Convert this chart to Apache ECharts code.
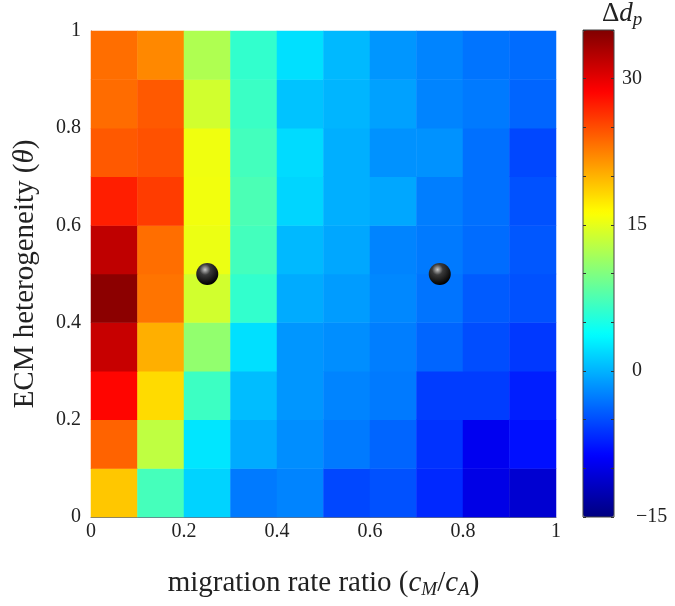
<!DOCTYPE html>
<html><head><meta charset="utf-8">
<script src="https://cdn.jsdelivr.net/npm/echarts@6/dist/echarts.min.js"></script>
<style>html,body{margin:0;padding:0;background:#fff}#c{width:675px;height:606px}</style>
</head><body><div id="c"></div>
<script>
const xCats = ['0.05','0.15','0.25','0.35','0.45','0.55','0.65','0.75','0.85','0.95'];
const yCats = ['0.05','0.15','0.25','0.35','0.45','0.55','0.65','0.75','0.85','0.95'];
// rows from theta 0-0.1 (bottom) to 0.9-1 (top); columns cM/cA 0-0.1 ... 0.9-1
const row0 = [19.0, 7.1, 1.6, -2.8, -2.3, -5.3, -4.8, -6.8, -10.0, -11.0];
const row1 = [23.9, 13.1, 2.5, -0.4, -1.8, -2.8, -3.8, -6.3, -9.5, -8.0];
const row2 = [28.5, 18.0, 6.7, 0.5, -1.4, -2.3, -2.8, -5.8, -5.8, -7.3];
const row3 = [31.5, 20.2, 10.9, 2.2, -1.4, -1.8, -2.6, -3.8, -5.0, -6.0];
const row4 = [34.4, 23.1, 14.0, 6.2, -0.4, -1.1, -2.1, -3.1, -4.3, -4.8];
const row5 = [31.9, 23.4, 15.3, 7.0, 0.3, -0.6, -2.3, -2.8, -3.5, -4.5];
const row6 = [27.3, 25.8, 15.6, 7.4, 1.7, -0.2, -0.6, -2.6, -3.3, -4.8];
const row7 = [24.4, 24.8, 15.5, 7.0, 2.0, -0.2, -1.6, -1.6, -3.3, -5.3];
const row8 = [23.5, 24.4, 14.0, 6.6, 0.8, 0.1, -0.9, -2.3, -2.8, -3.8];
const row9 = [23.4, 22.1, 12.3, 6.2, 2.2, 0.3, -1.4, -2.3, -3.1, -3.5];
const rows = [row0,row1,row2,row3,row4,row5,row6,row7,row8,row9];
const markers = [[0.25, 0.5], [0.75, 0.5]];
const axisTicks = [0, 0.2, 0.4, 0.6, 0.8, 1];
const cbarMin = -15, cbarMax = 35, cbarLabels = [-15, 0, 15, 30];
const jet = ['#000080','#0000ff','#0080ff','#00ffff','#80ff80','#ffff00','#ff8000','#ff0000','#800000'];

const heat = [];
rows.forEach((r, yi) => r.forEach((v, xi) => heat.push([xi, yi, v])));

const serif = 'Liberation Serif';
const tickFont = 20, titleFont = 29;
const cbLabelPad = {'30': 0, '15': 5, '0': 10, '-15': 14};
const lbl = pad => ({fontFamily: serif, fontSize: tickFont, color: '#222', padding: [0, 0, 0, pad]});
const chart = echarts.init(document.getElementById('c'));
chart.setOption({
  animation: false,
  textStyle: {fontFamily: serif},
  title: {
    text: '{d|Δ}{i|d}{s|p}', left: 602, top: -2, padding: 0,
    textStyle: {fontWeight: 'normal', rich: {
      d: {fontFamily: serif, fontSize: 27, fontWeight: 'normal', color: '#222'},
      i: {fontFamily: serif, fontSize: 27, fontWeight: 'normal', fontStyle: 'italic', color: '#222'},
      s: {fontFamily: serif, fontSize: 19, fontWeight: 'normal', fontStyle: 'italic', color: '#222', padding: [12, 0, 0, 0]}
    }}
  },
  grid: [
    {left: 91, top: 31, width: 465, height: 486, show: false},
    {left: 583, top: 30, width: 31, height: 487, show: true, borderColor: '#444', borderWidth: 1, backgroundColor: 'transparent', z: 5}
  ],
  xAxis: [
    {type: 'category', data: xCats, gridIndex: 0, show: false, position: 'top'},
    {type: 'value', gridIndex: 0, position: 'bottom', min: 0, max: 1, interval: 0.2,
     axisLine: {show: true, onZero: false, lineStyle: {color: '#6a7080', width: 1}},
     axisTick: {show: false}, splitLine: {show: false},
     axisLabel: {fontFamily: serif, fontSize: tickFont, color: '#222', margin: 5,
       formatter: v => axisTicks.some(t => Math.abs(t - v) < 1e-9) ? String(+v.toFixed(1)) : ''},
     name: '{n|migration rate ratio (}{i|c}{s|M}{n|/}{i|c}{s|A}{n|)}',
     nameLocation: 'middle', nameGap: 50,
     nameTextStyle: {rich: {
       n: {fontFamily: serif, fontSize: titleFont, color: '#222'},
       i: {fontFamily: serif, fontSize: titleFont, fontStyle: 'italic', color: '#222'},
       s: {fontFamily: serif, fontSize: 19, fontStyle: 'italic', color: '#222', padding: [13, 0, 0, 0]}
     }}},
    {type: 'value', gridIndex: 1, min: 0, max: 1, show: false}
  ],
  yAxis: [
    {type: 'category', data: yCats, gridIndex: 0, show: false, position: 'right'},
    {type: 'value', gridIndex: 0, position: 'left', min: 0, max: 1, interval: 0.2,
     axisLine: {show: true, onZero: false, lineStyle: {color: '#6a7080', width: 1}},
     axisTick: {show: false}, splitLine: {show: false},
     axisLabel: {fontFamily: serif, fontSize: tickFont, color: '#222', margin: 10,
       formatter: v => String(+v.toFixed(1))},
     name: '{n|ECM heterogeneity (}{i|θ}{n|)}',
     nameLocation: 'middle', nameGap: 51, nameRotate: 90,
     nameTextStyle: {rich: {
       n: {fontFamily: serif, fontSize: titleFont, color: '#222'},
       i: {fontFamily: serif, fontSize: titleFont, fontStyle: 'italic', color: '#222'}
     }}},
    {type: 'value', gridIndex: 1, min: cbarMin, max: cbarMax, interval: 5, position: 'right', z: 20,
     axisLine: {show: false, onZero: false}, splitLine: {show: false},
     axisTick: {show: true, inside: true, length: 3, lineStyle: {color: '#333'}},
     axisLabel: {fontFamily: serif, fontSize: tickFont, color: '#222', margin: 8,
       formatter: v => cbarLabels.includes(v) ? '{p' + (v < 0 ? 'm' + (-v) : v) + '|' + (v < 0 ? '\u2212' + (-v) : String(v)) + '}' : '',
       rich: {
         p30: lbl(cbLabelPad['30']), p15: lbl(cbLabelPad['15']),
         p0: lbl(cbLabelPad['0']), pm15: lbl(cbLabelPad['-15'])
       }}},
    {type: 'value', gridIndex: 1, min: cbarMin, max: cbarMax, interval: 5, position: 'left', z: 20,
     axisLine: {show: false, onZero: false}, splitLine: {show: false}, axisLabel: {show: false},
     axisTick: {show: true, inside: true, length: 3, lineStyle: {color: '#333'}}}
  ],
  visualMap: {
    type: 'continuous', min: cbarMin, max: cbarMax, seriesIndex: 0, z: 2,
    show: true, calculable: false, left: 583, top: 30, itemWidth: 31, itemHeight: 487,
    padding: 0, text: null, showLabel: false, hoverLink: false,
    inRange: {color: jet}
  },
  series: [
    {type: 'heatmap', xAxisIndex: 0, yAxisIndex: 0, data: heat, itemStyle: {borderWidth: 0}},
    {type: 'scatter', xAxisIndex: 1, yAxisIndex: 1, data: markers, symbolSize: 22, z: 10,
     itemStyle: {opacity: 1, color: {type: 'radial', x: 0.4, y: 0.3, r: 0.7,
       colorStops: [{offset: 0, color: '#c8c8c8'}, {offset: 0.35, color: '#3a3a3a'}, {offset: 1, color: '#000'}]}}}
  ]
});
</script></body></html>
